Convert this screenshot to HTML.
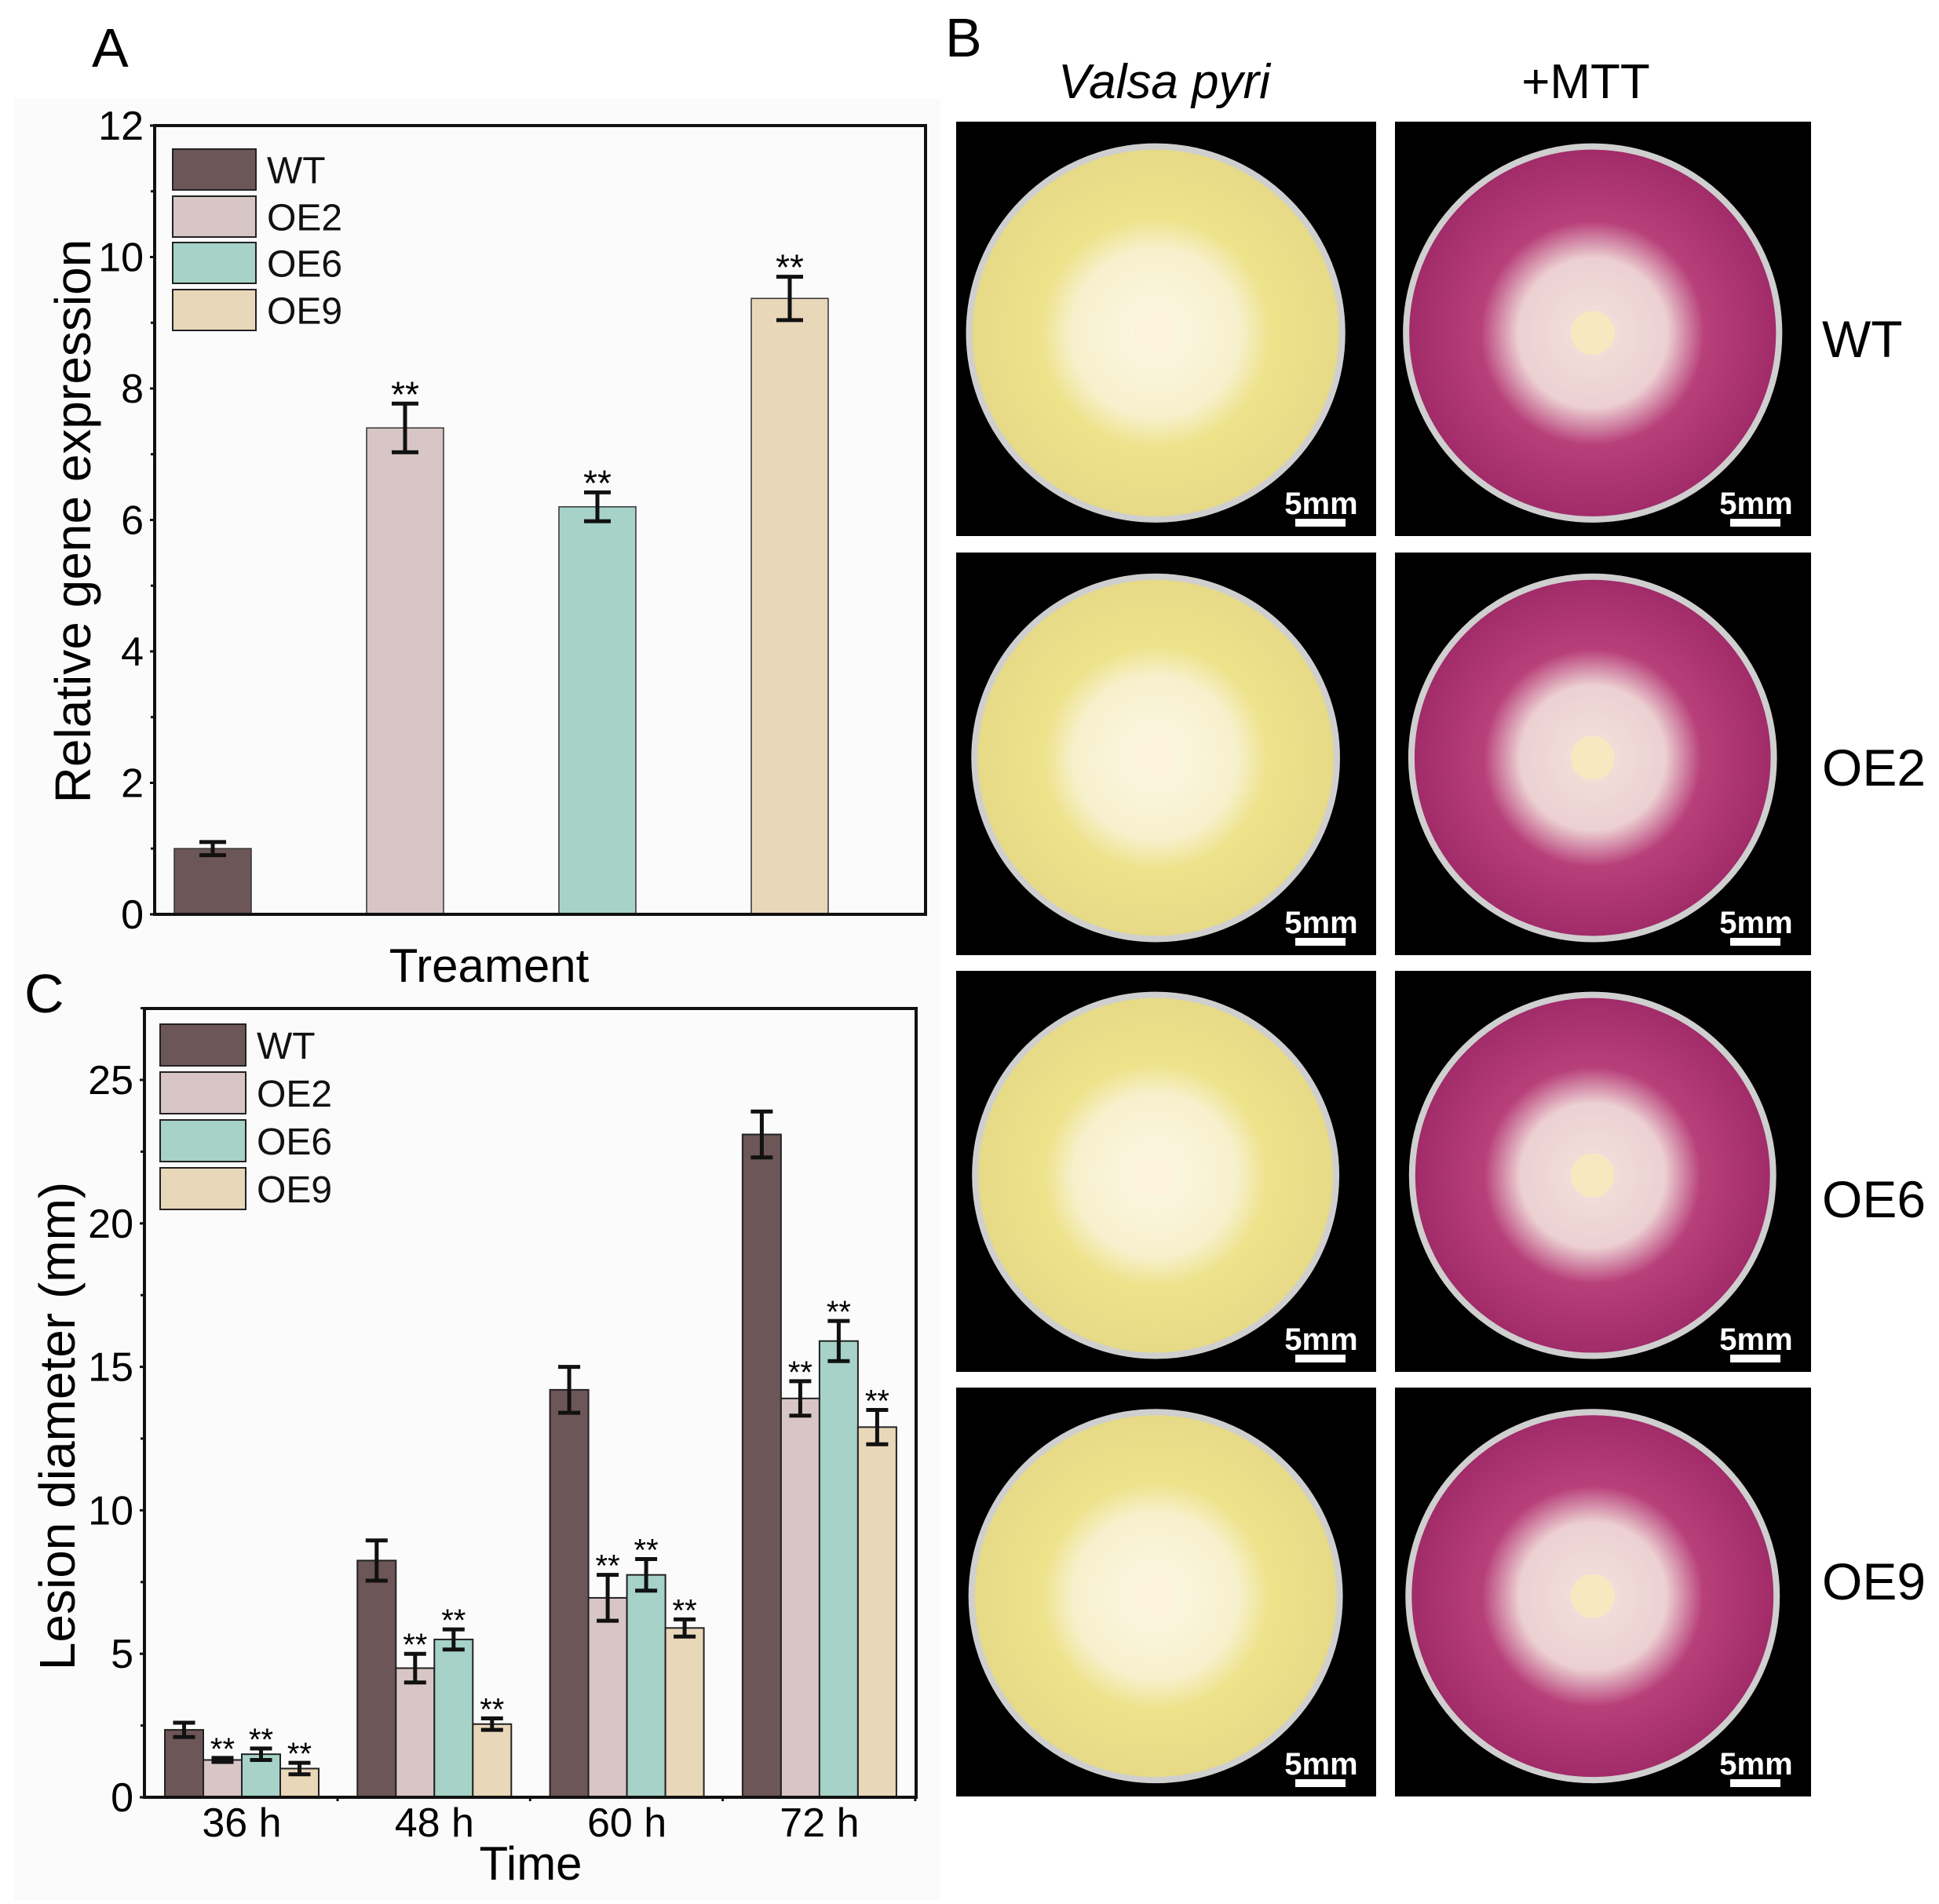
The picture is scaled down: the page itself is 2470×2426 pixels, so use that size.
<!DOCTYPE html>
<html><head><meta charset="utf-8"><style>
html,body{margin:0;padding:0;background:#fff}
svg{display:block}
text{font-family:"Liberation Sans",Arial,sans-serif}
</style></head><body>
<svg id="fig" width="2470" height="2426" viewBox="0 0 2470 2426" xmlns="http://www.w3.org/2000/svg">
<defs>
<radialGradient id="gy" cx="50%" cy="50%" r="50%">
<stop offset="0" stop-color="#fbf8e6"/><stop offset="0.45" stop-color="#f7f0cc"/><stop offset="0.62" stop-color="#eee28a"/><stop offset="1" stop-color="#e6da88"/></radialGradient>
<radialGradient id="gm" cx="50%" cy="50%" r="50%">
<stop offset="0" stop-color="#f4e2dc"/><stop offset="0.4" stop-color="#ecd0d2"/><stop offset="0.6" stop-color="#b8407a"/><stop offset="1" stop-color="#a02b68"/></radialGradient>
</defs>
<rect x="18" y="125" width="1180" height="2296" fill="#fbfbfb"/>
<g id="panelA"></g>
<g id="panelC"></g>
<g id="panelB"></g>
</svg>
<script>
// Panel A data
const aCategories = ["WT","OE2","OE6","OE9"];
const aValues = [1.0, 7.4, 6.2, 9.37];
const aErrors = [0.1, 0.37, 0.22, 0.33];
const aSig = ["", "**", "**", "**"];
const aTicks = [0,2,4,6,8,10,12];
// Panel C data
const cGroups = ["36 h","48 h","60 h","72 h"];
const cWT  = [2.35, 8.25, 14.2, 23.1];
const cOE2 = [1.3, 4.5, 6.95, 13.9];
const cOE6 = [1.5, 5.5, 7.75, 15.9];
const cOE9 = [1.0, 2.55, 5.9, 12.9];
const cWTerr  = [0.25, 0.7, 0.8, 0.8];
const cOE2err = [0.07, 0.5, 0.8, 0.6];
const cOE6err = [0.2, 0.35, 0.55, 0.7];
const cOE9err = [0.2, 0.2, 0.3, 0.6];
const cTicks = [0,5,10,15,20,25];

const COLORS = ["#6d5657","#d8c5c5","#a6d2c8","#e9d7b9"];
const NS = "http://www.w3.org/2000/svg";
function el(parent, tag, attrs, txt){
  const e = document.createElementNS(NS, tag);
  for (const k in attrs) e.setAttribute(k, attrs[k]);
  if (txt !== undefined) e.textContent = txt;
  parent.appendChild(e); return e;
}
function errorBar(g, x, yTop, yBot, cap){
  const e = el(g,"path",{d:`M${x-cap} ${yTop}H${x+cap}M${x} ${yTop}V${yBot}M${x-cap} ${yBot}H${x+cap}`,stroke:"#111","stroke-width":5,fill:"none"});
  
  
}
function legend(g, x, ys, h, w, labels, fs){
  labels.forEach((lb,i)=>{
    const r = el(g,"rect",{x:x,y:ys[i],width:w,height:h,fill:COLORS[i],stroke:"#222","stroke-width":2});
    
    
    const t = el(g,"text",{x:x+w+14,y:ys[i]+h/2+fs*0.36,"font-size":fs,fill:"#111"},lb);
    
    
  });
}

// ---------- Panel A ----------
(function(){
  const g = document.getElementById("panelA");
  const L=197,R=1179,T=160,B=1165, yMax=12;
  const y = v => B - v/yMax*(B-T);
  const xc = i => 271 + i*245;
  const bw = 98;
  const lab = el(g,"text",{x:117,y:85,"font-size":70},"A");
   
  aValues.forEach((v,i)=>{
    const r = el(g,"rect",{x:xc(i)-bw/2,y:y(v),width:bw,height:B-y(v),fill:COLORS[i],stroke:"#333","stroke-width":1.5});
    
    
    errorBar(g, xc(i), y(v+aErrors[i]), y(v-aErrors[i]), 17);
    if (aSig[i]) {
      const s = el(g,"text",{x:xc(i),y:y(v+aErrors[i])+4,"font-size":46,"text-anchor":"middle"},aSig[i]);
       
    }
  });
  const f = el(g,"rect",{x:L,y:T,width:R-L,height:B-T,fill:"none",stroke:"#111","stroke-width":4});
   
  aTicks.forEach(t=>{
    const tl = el(g,"text",{x:L-14,y:y(t)+18,"font-size":52,"text-anchor":"end"},String(t));
     
    el(g,"line",{x1:L-6,x2:L,y1:y(t),y2:y(t),stroke:"#111","stroke-width":3});
    if (t<yMax) el(g,"line",{x1:L-5,x2:L,y1:y(t+1),y2:y(t+1),stroke:"#111","stroke-width":3});
  });
  const yt = el(g,"text",{x:0,y:0,"font-size":64,"text-anchor":"middle",transform:"translate(115,664) rotate(-90)"},"Relative gene  expression");
   
  const xt = el(g,"text",{x:623,y:1251,"font-size":60,"text-anchor":"middle"},"Treament");
   
  legend(g, 220, [190,250,309,369], 52, 106, aCategories, 48);
})();

// ---------- Panel C ----------
(function(){
  const g = document.getElementById("panelC");
  const L=184,R=1167,T=1285,B=2290, y25=1376;
  const per = (B-y25)/25;
  const y = v => B - v*per;
  const gc = i => 308 + i*245.3;
  const bw = 49;
  const series=[cWT,cOE2,cOE6,cOE9], errs=[cWTerr,cOE2err,cOE6err,cOE9err], names=["WT","OE2","OE6","OE9"];
  const lab = el(g,"text",{x:31,y:1290,"font-size":70},"C");
   
  cGroups.forEach((grp,i)=>{
    series.forEach((s,k)=>{
      const x0 = gc(i) - 2*bw + k*bw;
      const v = s[i];
      const r = el(g,"rect",{x:x0,y:y(v),width:bw,height:B-y(v),fill:COLORS[k],stroke:"#222","stroke-width":2});
      
      
      errorBar(g, x0+bw/2, y(v+errs[k][i]), y(v-errs[k][i]), 14);
      if (k>0){
        const st = el(g,"text",{x:x0+bw/2,y:y(v+errs[k][i])+2,"font-size":40,"text-anchor":"middle"},"**");
         
      }
    });
    const tl = el(g,"text",{x:gc(i),y:2340,"font-size":52,"text-anchor":"middle"},grp);
     
    el(g,"line",{x1:gc(i)+122,x2:gc(i)+122,y1:B,y2:B+5,stroke:"#111","stroke-width":3});
  });
  const f = el(g,"rect",{x:L,y:T,width:R-L,height:B-T,fill:"none",stroke:"#111","stroke-width":4});
   
  cTicks.forEach(t=>{
    const tl = el(g,"text",{x:L-14,y:y(t)+18,"font-size":52,"text-anchor":"end"},String(t));
     
    el(g,"line",{x1:L-6,x2:L,y1:y(t),y2:y(t),stroke:"#111","stroke-width":3});
    el(g,"line",{x1:L-5,x2:L,y1:y(t+2.5),y2:y(t+2.5),stroke:"#111","stroke-width":3});
  });
  const yt = el(g,"text",{x:0,y:0,"font-size":64,"text-anchor":"middle",transform:"translate(95,1817) rotate(-90)"},"Lesion diameter (mm)");
   
  const xt = el(g,"text",{x:676,y:2395,"font-size":60,"text-anchor":"middle"},"Time");
   
  legend(g, 204, [1305,1366,1427,1488], 53, 109, names, 48);
})();

// ---------- Panel B ----------
(function(){
  const g = document.getElementById("panelB");
  const cols = [[1218,1753],[1777,2307]];
  const rows = [[155,683],[704,1217],[1237,1748],[1768,2289]];
  const rowLabels = ["WT","OE2","OE6","OE9"];
  const labelY = [455,1001,1551,2038];
  const t1 = el(g,"text",{x:1204,y:72,"font-size":70},"B");
   
  const t2 = el(g,"text",{x:1483,y:125,"font-size":62,"font-style":"italic","text-anchor":"middle"},"Valsa pyri");
   
  const t3 = el(g,"text",{x:2020,y:125,"font-size":62,"text-anchor":"middle"},"+MTT");
   
  rows.forEach((r,ri)=>{
    cols.forEach((c,ci)=>{
      const w=c[1]-c[0], h=r[1]-r[0];
      const bg = el(g,"rect",{x:c[0],y:r[0],width:w,height:h,fill:"#000"});
      
      
      const cx=c[0]+w*0.475, cy=r[0]+h*0.51, rad=Math.min(w,h)*0.45;
      el(g,"circle",{cx:cx,cy:cy,r:rad,fill:ci?"url(#gm)":"url(#gy)",stroke:"#cfcfcf","stroke-width":8});
      el(g,"circle",{cx:cx,cy:cy,r:28,fill:ci?"#f8e8c0":"#fbf3dc"});
      const sb = el(g,"text",{x:c[1]-70,y:r[1]-28,"font-size":40,fill:"#fff","text-anchor":"middle","font-weight":"bold"},"5mm");
       
      el(g,"rect",{x:c[1]-103,y:r[1]-22,width:64,height:10,fill:"#fff"});
    });
    const rl = el(g,"text",{x:2321,y:labelY[ri],"font-size":66},rowLabels[ri]);
    
    
  });
})();
</script>
</body></html>
